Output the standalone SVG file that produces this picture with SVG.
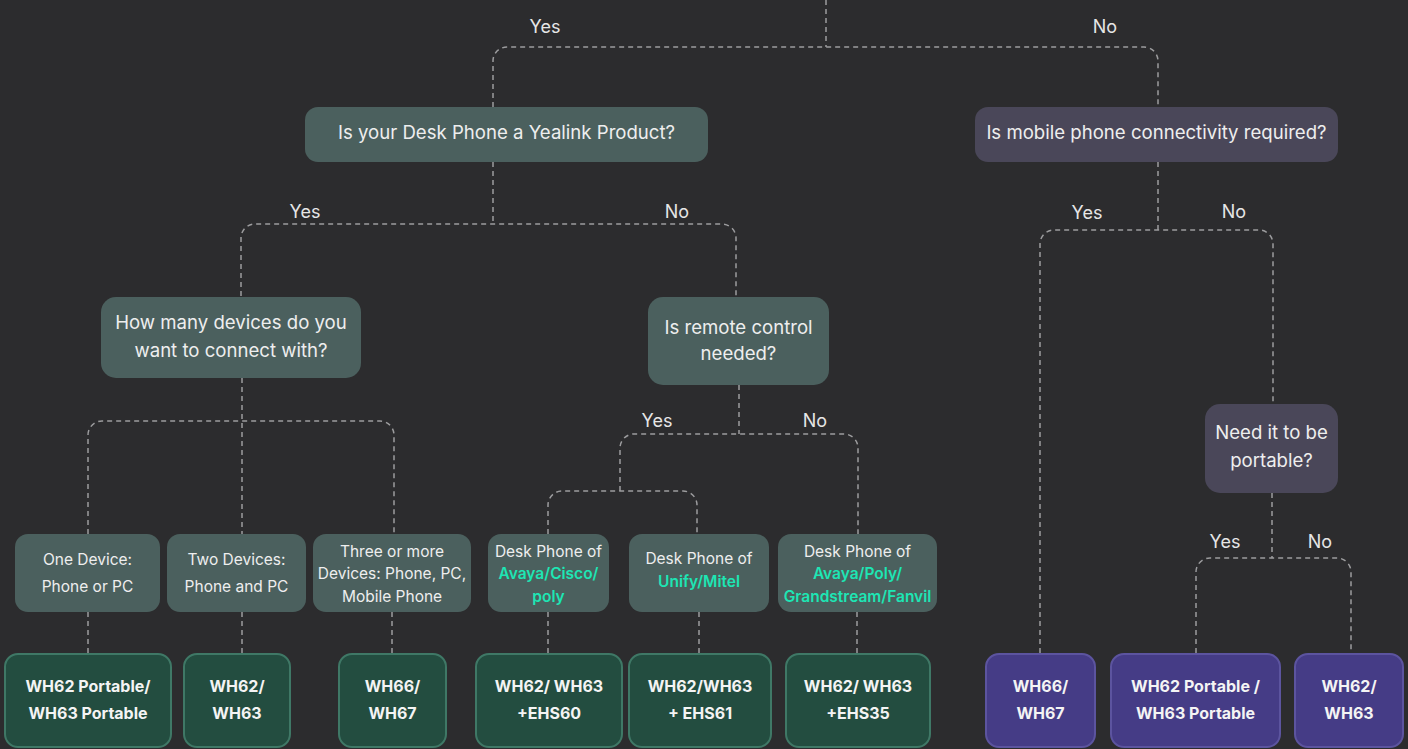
<svg xmlns="http://www.w3.org/2000/svg" width="1408" height="749" viewBox="0 0 1408 749">
<style>
.bg{fill:#2c2c2e}
.conn path{fill:none;stroke:#9c9c9e;stroke-width:1.5;stroke-dasharray:5 4}
.q{fill:#4b605e}
.qp{fill:#4a4759}
.opt{fill:#4b605e}
.rg{fill:#234d40;stroke:#3f7866;stroke-width:2}
.rp{fill:#453c86;stroke:#5c549f;stroke-width:2}
text{font-family:Inter,"Liberation Sans",sans-serif;fill:#eeeeee;text-anchor:middle}
.lbl{font-size:18px;fill:#e6e6e6}
.qt{font-size:18.6px}
.ot{font-size:15.5px}
.ac{fill:#1de6b4;font-weight:600}
.rt{font-size:16px;font-weight:700;fill:#f4f4f4}
</style>
<rect class="bg" x="0" y="0" width="1408" height="749"/>
<g id="connectors" class="conn">
<path d="M826,0 V47"/>
<path d="M493,107 V61 A14,14 0 0 1 507,47 H1144 A14,14 0 0 1 1158,61 V107"/>
<path d="M493,162 V224"/>
<path d="M241,296 V238 A14,14 0 0 1 255,224 H722 A14,14 0 0 1 736,238 V296"/>
<path d="M242,378 V534"/>
<path d="M88,534 V435 A14,14 0 0 1 102,421 H380 A14,14 0 0 1 394,435 V534"/>
<path d="M739,385 V434"/>
<path d="M620,491 V448 A14,14 0 0 1 634,434 H844 A14,14 0 0 1 858,448 V534"/>
<path d="M548,534 V505 A14,14 0 0 1 562,491 H683 A14,14 0 0 1 697,505 V534"/>
<path d="M88,612 V653"/>
<path d="M242,612 V653"/>
<path d="M392,612 V653"/>
<path d="M548,612 V653"/>
<path d="M699,612 V653"/>
<path d="M857,612 V653"/>
<path d="M1158,162 V230"/>
<path d="M1040,653 V244 A14,14 0 0 1 1054,230 H1259 A14,14 0 0 1 1273,244 V404"/>
<path d="M1272,493 V558"/>
<path d="M1196,653 V572 A14,14 0 0 1 1210,558 H1337 A14,14 0 0 1 1351,572 V653"/>
</g>
<g id="labels">
<text class="lbl" x="545" y="33">Yes</text>
<text class="lbl" x="1105" y="33">No</text>
<text class="lbl" x="305" y="218">Yes</text>
<text class="lbl" x="677" y="218">No</text>
<text class="lbl" x="657" y="427">Yes</text>
<text class="lbl" x="815" y="427">No</text>
<text class="lbl" x="1087" y="219">Yes</text>
<text class="lbl" x="1234" y="218">No</text>
<text class="lbl" x="1225" y="548">Yes</text>
<text class="lbl" x="1320" y="548">No</text>
</g>
<g id="q-yealink">
<rect class="q" x="305" y="107" width="403" height="55" rx="13"/>
<text class="qt" x="506.5" y="139">Is your Desk Phone a Yealink Product?</text>
</g>
<g id="q-mobile">
<rect class="qp" x="975" y="107" width="363" height="55" rx="13"/>
<text class="qt" x="1156.5" y="139">Is mobile phone connectivity required?</text>
</g>
<g id="q-devices">
<rect class="q" x="101" y="297" width="260" height="81" rx="15"/>
<text class="qt" x="231" y="329">How many devices do you</text>
<text class="qt" x="231" y="357">want to connect with?</text>
</g>
<g id="q-remote">
<rect class="q" x="648" y="297" width="181" height="88" rx="15"/>
<text class="qt" x="738.5" y="334">Is remote control</text>
<text class="qt" x="738.5" y="360">needed?</text>
</g>
<g id="q-portable">
<rect class="qp" x="1205" y="404" width="133" height="89" rx="15"/>
<text class="qt" x="1271.5" y="439">Need it to be</text>
<text class="qt" x="1271.5" y="467">portable?</text>
</g>
<g id="o-one">
<rect class="opt" x="15" y="534" width="145" height="78" rx="13"/>
<text class="ot" x="87.5" y="565">One Device:</text>
<text class="ot" x="87.5" y="592">Phone or PC</text>
</g>
<g id="o-two">
<rect class="opt" x="167" y="534" width="139" height="78" rx="13"/>
<text class="ot" x="236.5" y="565">Two Devices:</text>
<text class="ot" x="236.5" y="592">Phone and PC</text>
</g>
<g id="o-three">
<rect class="opt" x="313" y="534" width="158" height="78" rx="13"/>
<text class="ot" x="392" y="557">Three or more</text>
<text class="ot" x="392" y="579">Devices: Phone, PC,</text>
<text class="ot" x="392" y="602">Mobile Phone</text>
</g>
<g id="o-avaya-cisco">
<rect class="opt" x="488" y="534" width="121" height="78" rx="13"/>
<text class="ot" x="548.5" y="557">Desk Phone of</text>
<text class="ot ac" x="548.5" y="579">Avaya/Cisco/</text>
<text class="ot ac" x="548.5" y="602">poly</text>
</g>
<g id="o-unify">
<rect class="opt" x="629" y="534" width="140" height="78" rx="13"/>
<text class="ot" x="699" y="564">Desk Phone of</text>
<text class="ot ac" x="699" y="587">Unify/Mitel</text>
</g>
<g id="o-avaya-poly">
<rect class="opt" x="778" y="534" width="159" height="78" rx="13"/>
<text class="ot" x="857.5" y="557">Desk Phone of</text>
<text class="ot ac" x="857.5" y="579">Avaya/Poly/</text>
<text class="ot ac" x="857.5" y="602">Grandstream/Fanvil</text>
</g>
<g id="r-portable-1">
<rect class="rg" x="5" y="654" width="166" height="93" rx="13"/>
<text class="rt" x="88" y="692">WH62 Portable/</text>
<text class="rt" x="88" y="719">WH63 Portable</text>
</g>
<g id="r-wh62-1">
<rect class="rg" x="184" y="654" width="106" height="93" rx="13"/>
<text class="rt" x="237" y="692">WH62/</text>
<text class="rt" x="237" y="719">WH63</text>
</g>
<g id="r-wh66-1">
<rect class="rg" x="339" y="654" width="107" height="93" rx="13"/>
<text class="rt" x="392.5" y="692">WH66/</text>
<text class="rt" x="392.5" y="719">WH67</text>
</g>
<g id="r-ehs60">
<rect class="rg" x="476" y="654" width="146" height="93" rx="13"/>
<text class="rt" x="549" y="692">WH62/ WH63</text>
<text class="rt" x="549" y="719">+EHS60</text>
</g>
<g id="r-ehs61">
<rect class="rg" x="629" y="654" width="142" height="93" rx="13"/>
<text class="rt" x="700" y="692">WH62/WH63</text>
<text class="rt" x="700" y="719">+ EHS61</text>
</g>
<g id="r-ehs35">
<rect class="rg" x="786" y="654" width="144" height="93" rx="13"/>
<text class="rt" x="858" y="692">WH62/ WH63</text>
<text class="rt" x="858" y="719">+EHS35</text>
</g>
<g id="r-wh66-2">
<rect class="rp" x="986" y="654" width="109" height="93" rx="13"/>
<text class="rt" x="1040.5" y="692">WH66/</text>
<text class="rt" x="1040.5" y="719">WH67</text>
</g>
<g id="r-portable-2">
<rect class="rp" x="1111" y="654" width="169" height="93" rx="13"/>
<text class="rt" x="1195.5" y="692">WH62 Portable /</text>
<text class="rt" x="1195.5" y="719">WH63 Portable</text>
</g>
<g id="r-wh62-2">
<rect class="rp" x="1295" y="654" width="108" height="93" rx="13"/>
<text class="rt" x="1349" y="692">WH62/</text>
<text class="rt" x="1349" y="719">WH63</text>
</g>
</svg>
